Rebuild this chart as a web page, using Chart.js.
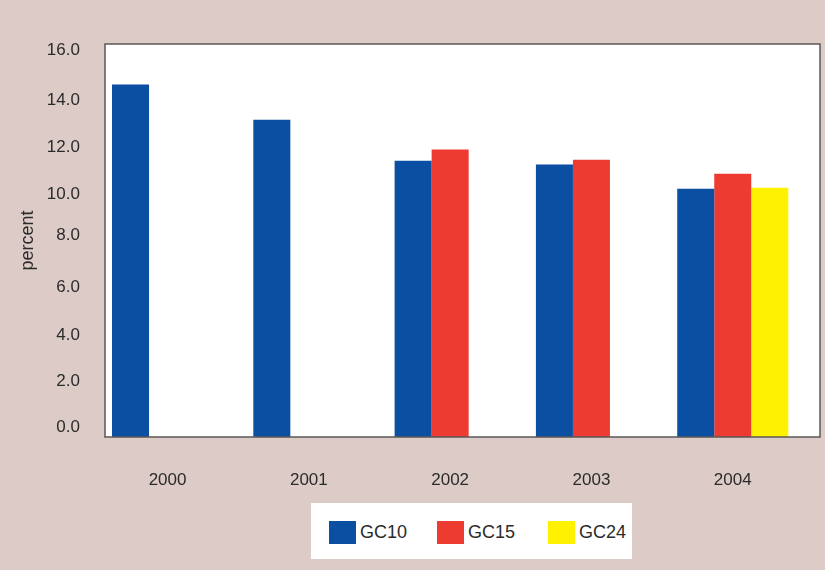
<!DOCTYPE html>
<html>
<head>
<meta charset="utf-8">
<script src="https://cdn.jsdelivr.net/npm/chart.js@4.4.0/dist/chart.umd.min.js"></script>
<style>
    html, body { margin: 0; padding: 0; background: #dccbc7; }
    #wrap { position: relative; width: 825px; height: 570px; }
    #legend {
        position: absolute; left: 311px; top: 503px; width: 321px; height: 56px;
        background: #fff; font-family: "Liberation Sans", Arial, sans-serif;
        font-size: 18px; color: #2b2b2b;
    }
    .item { position: absolute; top: 18px; height: 23px; display: flex; align-items: center; }
    .swatch { width: 27px; height: 23px; margin-right: 4px; }
</style>
</head>
<body>
<div id="wrap">
    <canvas id="chart" width="825" height="570"></canvas>
    <div id="legend"></div>
</div>
<script>
const years = ["2000", "2001", "2002", "2003", "2004"]
const gc10 = [14.35, 12.92, 11.25, 11.09, 10.11]
const gc15 = [null, null, 11.7, 11.29, 10.72]
const gc24 = [null, null, null, null, 10.15]
const seriesNames = ["GC10", "GC15", "GC24"]
const seriesColors = ["#0b4fa2", "#ee3b32", "#fff200"]

// tick labels sit where the original put them, not exactly on the grid
const yTickLabels = ["0.0", "2.0", "4.0", "6.0", "8.0", "10.0", "12.0", "14.0", "16.0"]
const yTickValues = [0.41, 2.28, 4.16, 6.09, 8.21, 9.89, 11.78, 13.70, 15.74]

const font = "'Liberation Sans', Arial, sans-serif"
const textColor = "#2b2b2b"

// white plot box with a dark frame (box is a bit wider than the bar area, like the original)
const frameLeft = 105
const frameRight = 820

const plotFrame = {
    id: "plotFrame",
    beforeDraw(chart) {
        const { ctx, chartArea: a } = chart
        ctx.save()
        ctx.fillStyle = "#dccbc7"
        ctx.fillRect(0, 0, chart.width, chart.height)
        ctx.fillStyle = "#ffffff"
        ctx.fillRect(frameLeft, a.top, frameRight - frameLeft, a.bottom - a.top)
        ctx.restore()
    },
    afterDatasetsDraw(chart) {
        const { ctx, chartArea: a } = chart
        ctx.save()
        ctx.strokeStyle = "#5b5757"
        ctx.lineWidth = 1.5
        ctx.strokeRect(frameLeft, a.top, frameRight - frameLeft, a.bottom - a.top)
        ctx.restore()
    }
}

const seriesData = [gc10, gc15, gc24]

const ctx = document.getElementById("chart")

new Chart(ctx, {
    type: "bar",
    data: {
        labels: years,
        datasets: seriesNames.map((name, i) => ({
            label: name,
            data: seriesData[i],
            backgroundColor: seriesColors[i],
            borderWidth: 0,
            barPercentage: 1,
            categoryPercentage: 0.786
        }))
    },
    options: {
        responsive: false,
        animation: false,
        layout: { padding: { top: 44, right: 21.6, left: 0, bottom: 0 } },
        plugins: {
            legend: { display: false },
            tooltip: { enabled: false }
        },
        scales: {
            x: {
                grid: { display: false, drawTicks: false },
                border: { display: false },
                ticks: { color: textColor, font: { family: font, size: 17 }, padding: 33 },
                afterFit: (scale) => { scale.height = 133 }
            },
            y: {
                min: 0,
                max: 16,
                grid: { display: false, drawTicks: false },
                border: { display: false },
                afterBuildTicks: (scale) => {
                    scale.ticks = yTickValues.map(v => ({ value: v }))
                },
                ticks: {
                    color: textColor,
                    font: { family: font, size: 17 },
                    padding: 17,
                    callback: (value, index) => yTickLabels[index]
                },
                title: {
                    display: true,
                    text: "percent",
                    color: textColor,
                    font: { family: font, size: 18 },
                    padding: { top: 17, bottom: 0 }
                },
                afterFit: (scale) => { scale.width = 96.9 }
            }
        }
    },
    plugins: [plotFrame]
})

// legend in its own white box under the chart
const legend = document.getElementById("legend")
const itemLeft = [18, 126, 237]
seriesNames.forEach((name, i) => {
    const item = document.createElement("div")
    item.className = "item"
    item.style.left = itemLeft[i] + "px"
    item.innerHTML = `<span class="swatch" style="background:${seriesColors[i]}"></span>${name}`
    legend.appendChild(item)
})
</script>
</body>
</html>
